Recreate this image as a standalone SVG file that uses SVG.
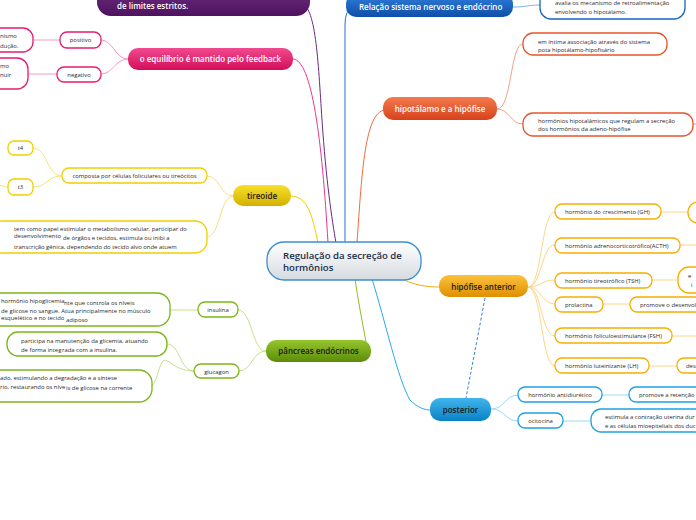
<svg xmlns="http://www.w3.org/2000/svg" width="696" height="520" viewBox="0 0 696 520">
<defs>
<linearGradient id="gPur" x1="0" y1="0" x2="0" y2="1"><stop offset="0" stop-color="#7a3a8c"/><stop offset="1" stop-color="#4e1260"/></linearGradient>
<linearGradient id="gBlu" x1="0" y1="0" x2="0" y2="1"><stop offset="0" stop-color="#2f7fdc"/><stop offset="1" stop-color="#0f4fa8"/></linearGradient>
<linearGradient id="gOra" x1="0" y1="0" x2="0" y2="1"><stop offset="0" stop-color="#f47a4e"/><stop offset="1" stop-color="#d6421a"/></linearGradient>
<linearGradient id="gPin" x1="0" y1="0" x2="0" y2="1"><stop offset="0" stop-color="#f2498f"/><stop offset="1" stop-color="#d20f5a"/></linearGradient>
<linearGradient id="gYel" x1="0" y1="0" x2="0" y2="1"><stop offset="0" stop-color="#f7e02a"/><stop offset="1" stop-color="#d4b000"/></linearGradient>
<linearGradient id="gGre" x1="0" y1="0" x2="0" y2="1"><stop offset="0" stop-color="#95c62c"/><stop offset="1" stop-color="#5c8c08"/></linearGradient>
<linearGradient id="gAnt" x1="0" y1="0" x2="0" y2="1"><stop offset="0" stop-color="#fcc23c"/><stop offset="1" stop-color="#de9000"/></linearGradient>
<linearGradient id="gPos" x1="0" y1="0" x2="0" y2="1"><stop offset="0" stop-color="#40b4ee"/><stop offset="1" stop-color="#0a82c4"/></linearGradient>
<linearGradient id="gCen" x1="0" y1="0" x2="0" y2="1"><stop offset="0" stop-color="#ffffff"/><stop offset="1" stop-color="#d6dbe0"/></linearGradient>
</defs>
<style>
.t{font-family:"Open Sans","DejaVu Sans",sans-serif;font-size:5.9px;fill:#2a2a2a}
.m{font-family:"Open Sans","DejaVu Sans",sans-serif;font-size:8px;font-weight:600}
.w{fill:#fff}
.d{fill:#1a1a1a}
.box{fill:#fff;stroke-width:1.3}
.c{fill:none;stroke-width:1}
.pk{stroke:#e61b6e}.ye{stroke:#f0d000}.gr{stroke:#7cb518}.or{stroke:#f6ae00}.bl{stroke:#1ea0e6}.rd{stroke:#e8542a}.nb{stroke:#1565c0}
.mid{text-anchor:middle}
</style>
<g id="connectors">
<path class="c" stroke="#f0d000" stroke-width="1.2" d="M318,243 C312,215 308,196 290,196"/>
<path class="c" stroke="#e8388a" stroke-width="1.2" d="M293,59 C312,60 322,140 328,243"/>
<path class="c" stroke="#6a2a7e" stroke-width="1.2" d="M300,3 C316,4 318,60 322,120 S332,220 336,243"/>
<path class="c" stroke="#2a6fd0" stroke-width="1.2" d="M352,8 Q345,10 345,25 L345,243"/>
<path class="c" stroke="#f06a40" stroke-width="1.2" d="M357,243 C362,170 365,112 385,110"/>
<path class="c" stroke="#8cc023" stroke-width="1.2" d="M355,279 C358,300 362,320 366,342"/>
<path class="c" stroke="#2aa8ec" stroke-width="1.2" d="M372,279 C385,320 398,380 410,400 C418,408 425,410 431,410"/>
<path class="c" stroke="#f5aa10" stroke-width="1.2" d="M402,279 C415,285 425,287 440,287"/>
<path class="c" stroke="#3a80d8" stroke-dasharray="3,2" d="M485,298 L466,398"/>
<path class="c" stroke="#f59ac2" d="M128,59 C115,59 113,40 101,40 M128,59 C115,59 113,74 101,74"/>
<path class="c" stroke="#f59ac2" stroke-width="1.5" d="M60,40 L32,40 M57,74 L28,74"/>
<path class="c" stroke="#f5e27a" d="M233,196 C220,196 220,176 207,176 M233,196 C220,196 220,237 207,237 M62,176 C47,176 47,148 33,148 M62,176 C47,176 47,187 33,187 M8,187 C4,187 2,185 -2,185"/>
<path class="c" stroke="#c5e08a" d="M266,351 C252,351 252,310 238,310 M266,351 C252,351 252,371 239,371 M194,371 C180,371 180,344 167,344 M194,371 C172,371 168,355 162,362 C158,370 157,380 152,386"/>
<path class="c" stroke="#c5e08a" stroke-width="1.5" d="M198,310 L170,310"/>
<path class="c" stroke="#f8a080" d="M497,109 C512,109 510,44 523,44 M497,109 C510,109 510,124 523,124 M693,124 L697,124"/>
<path class="c" stroke="#7fb0e8" d="M513,7 C527,7 527,5 540,5"/>
<path class="c" stroke="#fcd68a" d="M528,287 C542,287 541,212 555,212 M528,287 C542,287 541,245 555,245 M528,287 C542,287 541,280 555,280 M528,287 C542,287 541,304 555,304 M528,287 C542,287 541,336 555,336 M528,287 C542,287 541,366 555,366"/>
<path class="c" stroke="#fcd68a" stroke-width="1.5" d="M661,212 L688,212 M680,245 L697,245 M652,280 L678,280 M603,304 L630,304 M672,336 L697,336 M649,366 L677,366"/>
<path class="c" stroke="#9dd8f5" d="M491,409 C505,409 505,395 518,395 M491,409 C505,409 505,421 518,421"/>
<path class="c" stroke="#9dd8f5" stroke-width="1.5" d="M602,395 L629,395 M563,421 L591,421"/>
</g>
<g id="central">
<rect x="267" y="242" width="154" height="38" rx="17" fill="url(#gCen)" stroke="#3d8fd1" stroke-width="1.3"/>
<text x="283" y="258.5" font-family="'Open Sans','DejaVu Sans',sans-serif" font-size="9.6" font-weight="600" fill="#1c2e4a">Regulação da secreção de</text>
<text x="283" y="271" font-family="'Open Sans','DejaVu Sans',sans-serif" font-size="9.6" font-weight="600" fill="#1c2e4a">hormônios</text>
</g>
<g id="limites">
<rect x="97" y="-25" width="213" height="41" rx="14" fill="url(#gPur)"/>
<text class="m w" x="117" y="9">de limites estritos.</text>
</g>
<g id="relacao">
<rect x="346" y="-6" width="167" height="23" rx="10" fill="url(#gBlu)"/>
<text class="m w" x="359" y="10">Relação sistema nervoso e endócrino</text>
</g>
<g id="avalia">
<rect class="box nb" x="540" y="-15" width="145" height="34" rx="11"/>
<text class="t" x="555" y="5">avalia os mecanismo de retroalimentação</text>
<text class="t" x="555" y="14">envolvendo o hipotálamo.</text>
</g>
<g id="hipotalamo">
<rect x="383" y="97" width="114" height="23" rx="10" fill="url(#gOra)"/>
<text class="m w mid" x="440" y="112">hipotálamo e a hipófise</text>
</g>
<g id="intima">
<rect class="box rd" x="523" y="33" width="144" height="22" rx="10"/>
<text class="t" x="538" y="43.5">em íntima associação através do sistema</text>
<text class="t" x="538" y="51.5">pota hipotálamo-hipofisário</text>
</g>
<g id="hipotalamicos">
<rect class="box rd" x="523" y="113" width="170" height="23" rx="10"/>
<text class="t" x="538" y="123">hormônios hipotalâmicos que regulam a secreção</text>
<text class="t" x="538" y="131">dos hormônios da adeno-hipófise</text>
</g>
<g id="feedback">
<rect x="128" y="48" width="165" height="22" rx="10" fill="url(#gPin)"/>
<text class="m w mid" x="210.5" y="62">o equilíbrio é mantido pelo feedback</text>
</g>
<g id="positivo">
<rect class="box pk" x="60" y="32" width="41" height="16" rx="7"/>
<text class="t mid" x="80.5" y="42">positivo</text>
</g>
<g id="negativo">
<rect class="box pk" x="57" y="67" width="44" height="15" rx="7"/>
<text class="t mid" x="79" y="76.5">negativo</text>
</g>
<g id="positivo-desc">
<rect class="box pk" x="-40" y="28" width="73" height="24" rx="10"/>
<text class="t" x="0" y="38">nismo</text>
<text class="t" x="0" y="47.5">dução.</text>
</g>
<g id="negativo-desc">
<rect class="box pk" x="-40" y="58" width="68" height="31" rx="11"/>
<text class="t" x="0" y="68">mo</text>
<text class="t" x="0" y="77">nuir</text>
</g>
<g id="tireoide">
<rect x="233" y="185" width="58" height="21" rx="10" fill="url(#gYel)"/>
<text class="m d mid" x="262" y="199">tireoide</text>
</g>
<g id="composta">
<rect class="box ye" x="62" y="168" width="145" height="15" rx="7"/>
<text class="t mid" x="134.5" y="178">composta por células foliculares ou tireócitos</text>
</g>
<g id="papel">
<rect class="box ye" x="-10" y="221" width="217" height="32" rx="12"/>
<text class="t" x="14" y="231">tem como papel estimular o metabolismo celular, participar do</text>
<text class="t" x="14" y="238">desenvolvimento</text>
<text class="t" x="63" y="240">de órgãos e tecidos, estimula ou inibi a</text>
<text class="t" x="14" y="248.5">transcrição gênica, dependendo do tecido alvo onde atuem</text>
</g>
<g id="t4">
<rect class="box ye" x="8" y="141" width="25" height="14" rx="6"/>
<text class="t mid" x="20.5" y="150">t4</text>
</g>
<g id="t3">
<rect class="box ye" x="8" y="179" width="25" height="16" rx="6"/>
<text class="t mid" x="20.5" y="189">t3</text>
</g>
<g id="pancreas">
<rect x="266" y="340" width="105" height="22" rx="10" fill="url(#gGre)"/>
<text class="m d mid" x="318.5" y="354">pâncreas endócrinos</text>
</g>
<g id="insulina">
<rect class="box gr" x="198" y="302" width="40" height="15" rx="7"/>
<text class="t mid" x="218" y="312">insulina</text>
</g>
<g id="glucagon">
<rect class="box gr" x="194" y="364" width="45" height="14" rx="7"/>
<text class="t mid" x="216.5" y="373.5">glucagon</text>
</g>
<g id="insulina-desc">
<rect class="box gr" x="-40" y="293" width="210" height="33" rx="13"/>
<text class="t" x="1" y="303">hormônio hipoglicemia</text>
<text class="t" x="64" y="304.5">nte que controla os níveis</text>
<text class="t" x="1" y="313">de glicose no sangue. Atua principalmente no músculo</text>
<text class="t" x="1" y="319.5">esquelético e no tecido</text>
<text class="t" x="66" y="321.5">adiposo</text>
</g>
<g id="participa">
<rect class="box gr" x="7" y="332" width="160" height="24" rx="11"/>
<text class="t" x="21" y="342.5">participa na manutenção da glicemia, atuando</text>
<text class="t" x="21" y="351.5">de forma integ</text>
<text class="t" x="62" y="352">rada com a insulina.</text>
</g>
<g id="glucagon-desc">
<rect class="box gr" x="-40" y="370" width="192" height="32" rx="13"/>
<text class="t" x="0" y="380">ado, estimulando a degradação e a síntese</text>
<text class="t" x="0" y="389">rio, restaurando os níve</text>
<text class="t" x="66" y="390">is de glicose na corrente</text>
</g>
<g id="hipofise-anterior">
<rect x="439" y="275" width="89" height="22" rx="10" fill="url(#gAnt)"/>
<text class="m d mid" x="483.5" y="289.5">hipófise anterior</text>
</g>
<g id="gh">
<rect class="box or" x="555" y="204" width="106" height="15" rx="7"/>
<text class="t" x="565" y="214">hormônio do crescimento (GH)</text>
</g>
<g id="acth">
<rect class="box or" x="555" y="238" width="125" height="15" rx="7"/>
<text class="t" x="565" y="248">hormônio adrenocorticotrófico(ACTH)</text>
</g>
<g id="tsh">
<rect class="box or" x="555" y="273" width="97" height="15" rx="7"/>
<text class="t" x="565" y="283">hormônio tireotrófico (TSH)</text>
</g>
<g id="prolactina">
<rect class="box or" x="555" y="297" width="48" height="15" rx="7"/>
<text class="t" x="565" y="307">prolactina</text>
</g>
<g id="fsh">
<rect class="box or" x="555" y="328" width="117" height="15" rx="7"/>
<text class="t" x="565" y="338">hormônio folículoestimulante (FSH)</text>
</g>
<g id="lh">
<rect class="box or" x="555" y="358" width="94" height="15" rx="7"/>
<text class="t" x="565" y="368">hormônio luteinizante (LH)</text>
</g>
<g id="gh-desc">
<rect class="box or" x="688" y="202" width="40" height="21" rx="10"/>
</g>
<g id="tsh-desc">
<rect class="box or" x="678" y="267" width="40" height="26" rx="11"/>
<text class="t" x="688" y="278">e</text>
<text class="t" x="691" y="287">i</text>
</g>
<g id="prolactina-desc">
<rect class="box or" x="630" y="297" width="80" height="15" rx="7"/>
<text class="t" x="640" y="307">promove o desenvolv</text>
</g>
<g id="lh-desc">
<rect class="box or" x="677" y="358" width="40" height="15" rx="7"/>
<text class="t" x="686" y="368">des</text>
</g>
<g id="posterior">
<rect x="430" y="398" width="61" height="23" rx="10" fill="url(#gPos)"/>
<text class="m d mid" x="460.5" y="413">posterior</text>
</g>
<g id="antidiuretico">
<rect class="box bl" x="518" y="387" width="84" height="15" rx="7"/>
<text class="t mid" x="560" y="397">hormônio antidiurético</text>
</g>
<g id="ocitocina">
<rect class="box bl" x="518" y="413" width="45" height="15" rx="7"/>
<text class="t mid" x="540.5" y="423">ocitocina</text>
</g>
<g id="retencao">
<rect class="box bl" x="629" y="387" width="80" height="15" rx="7"/>
<text class="t" x="639" y="397">promove a retenção</text>
</g>
<g id="contracao">
<rect class="box bl" x="591" y="409" width="120" height="23" rx="10"/>
<text class="t" x="605" y="419">estimula a contração uterina dur</text>
<text class="t" x="605" y="428">e as células mioepiteliais dos duc</text>
</g>
</svg>
